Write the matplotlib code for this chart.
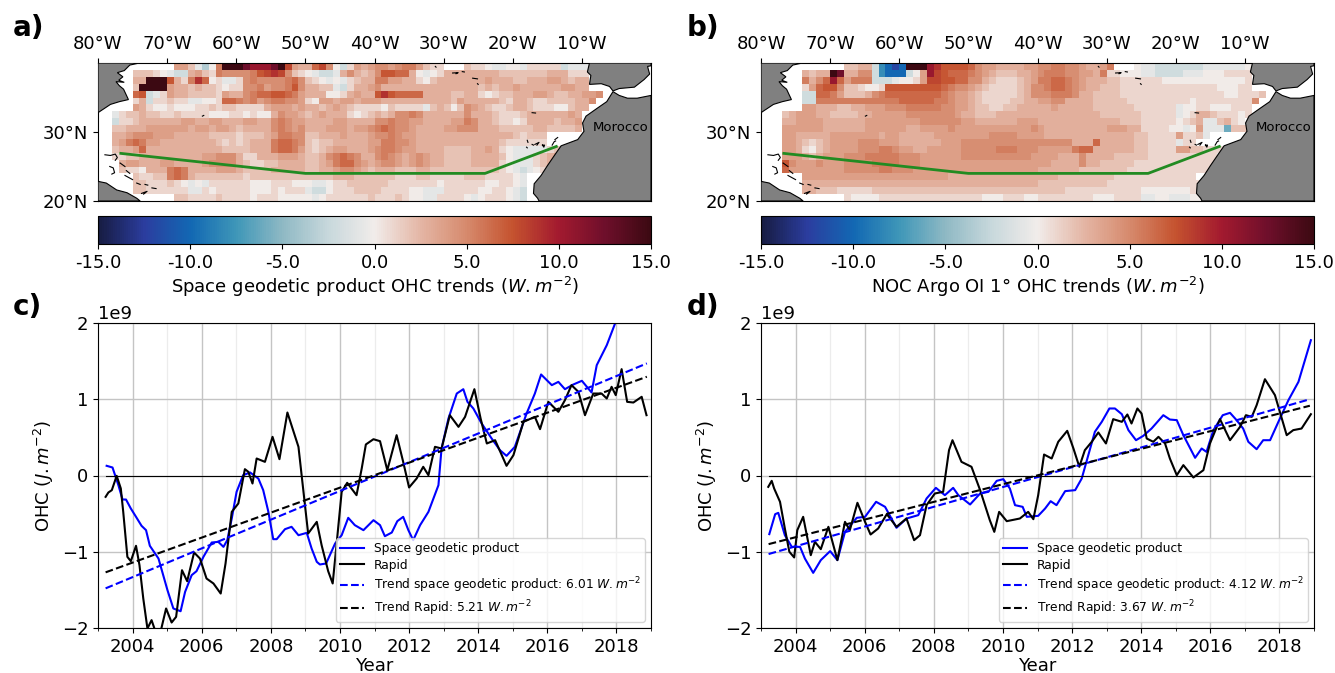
#!/usr/bin/env python3

import numpy
import matplotlib
matplotlib.use('Agg')
import matplotlib.pyplot as plt
from matplotlib.colors import LinearSegmentedColormap

WIDTH = 1335
HEIGHT = 673

# trend maps, one string per latitude row from 40N down, one char per 1 deg of longitude from 80W
# '.' is no data, the other chars are W/m2 levels (see LEVELS)
LEVELS = {'0': 0.0, '1': 0.95, '2': 1.9, '3': 2.85, '4': 3.8, '5': 4.7, '6': 5.6, '7': 6.5, '8': 7.3, '9': 8.0,
          'A': 9.0, 'B': 10.5, 'C': 12.5, 'D': 15.0,
          'p': -0.8, 'q': -2.0, 'r': -3.5, 's': -6.0, 't': -8.0, 'u': -10.0, 'v': -12.0}

trend_altimetry = [
    ".......... .442pr06DD DCBBBCD943 37950q1434 5545664211 ...2110pp0 0p11111qpp p.........",
    ".....22210 pqq3421655 55689A9521 0pqqp35323 5887730p01 3333333322 2222233311 1.........",
    ".....33DDD 8316A701pp 1565555675 210p0p1233 6644331023 3333334333 2233344323 3.........",
    ".....2DDDD 4332322101 1556455685 3322pq1334 5333333333 3333323233 4333333443 3.........",
    ".....78qp1 4332222143 3567788764 3330013433 8A87777333 3223310122 3334432233 445.......",
    ".....13q11 211pp00177 6564566554 1044344344 4333333333 3243333321 3321122223 35........",
    ".....43100 1000112122 1111344434 3323432111 1021111p23 2025432112 3321110023 3.........",
    "..p1223221 1211110001 1010035443 2343331012 3235565333 3335333211 1233333343 ..........",
    "..q1123333 3344334433 3443356544 3333443333 5565544333 3446533211 0133332334 ..........",
    "..22333444 4443443443 2333356545 3334443445 6765543333 4455533322 2223322223 ..........",
    "..33455544 4333332222 1222346655 2233343334 5565443333 3333333333 21222..... ..........",
    "..34676443 3333333212 1233367765 2122333334 4665543333 3333333321 11111..... ..........",
    "..23347333 3333333322 2233367764 2123443334 5665443333 2222334310 ppppp12... ..........",
    "..11223333 3333344555 3113334443 2235676533 5654345433 2222333320 ppp1234... ..........",
    "...3443334 4333345555 3211223333 2234677543 4554345433 2222333310 ppp1235... ..........",
    "...2110333 6763333444 3222233333 2233455432 3332223322 2222222210 pqp0135... ..........",
    ".....21122 6763222222 2122222222 2222333222 2221112211 1112221111 0p........ ..........",
    ".....22111 210p0p1111 1100011100 0pp0112222 2211111110 1111110011 0p........ ..........",
    ".....22111 111pp10111 1100010111 pqq0111222 2111100ppp 1111100110 pq........ ..........",
    ".......... .221111211 1101110000 0p01111112 1112100pp1 1110p01110 pq........ ..........",
]

trend_argo = [
    ".......... ..2233qtuv uDDDBA8888 7544333344 5566554334 6...0ppqqq qqqqpppppp 0.........",
    "......3233 DC3355qtuu uq04B98777 6543222334 5666554436 11000ppqqq qppp000111 1.........",
    "......6357 B74666qqqp 0014998877 5532111234 6677654333 2211111100 0000000000 1.........",
    "......1478 8522100188 8888887655 4321111235 5677654332 2211111111 1111110001 1.........",
    "......qq77 6422235677 7777776544 3211111235 5566653322 2211111111 1111111001 112.......",
    "......qq66 6666666666 7777766544 3211112233 4455333322 2221111111 1101111111 15........",
    "......4433 3223344455 5666665544 3221122333 3343333322 2222111111 p001100011 1.........",
    "...2344433 2222334444 4555555543 3222333333 3333333332 2222211111 p013321110 1.........",
    "...3344443 3333344444 4445555554 4333333444 3333333333 3322211111 0123pp2310 ..........",
    "...4444443 3333344444 4334444544 4444444445 4333333333 4443311110 0p04ppps22 2.........",
    "...4433333 4444444344 3333344444 4445555444 4333333333 3333221111 4112p..... ..........",
    "...4432123 4444555444 3333334445 5555555555 5555533373 3333221111 p11....... ..........",
    "...4431023 4444555665 4433444445 5555666555 4444467733 3333221111 4422111111 ..........",
    "...4443234 4455566666 5554444445 5555555554 4443335333 3222221111 111111p111 ..........",
    "...8544454 4455556666 5554444444 4444444444 4433335332 2222111111 1111111111 ..........",
    "...7444444 4455555665 5544444444 4444444444 3333332222 2221111111 11111..... ..........",
    "......4444 4444444444 4444444333 3333333333 3332222222 2111111111 111....... ..........",
    "......3333 3333333333 3333333333 3333333333 2222222222 1111111111 1111...... ..........",
    "......3322 2111112222 2222222222 2222222222 2222111111 1111100000 0011...... ..........",
    ".......... ..10000111 1111111111 1100011100 1111111100 01111pp00p pp00...... ..........",
]

# coastlines (lon, lat)
north_america = [(-80, 40), (-74, 40), (-75.4, 39.7), (-76.2, 38.9), (-77.2, 38.6), (-76.4, 38.0), (-77.0, 37.5), (-76.2, 37.2),
                 (-77.4, 37.3), (-76.9, 36.7), (-76.3, 36.2), (-75.6, 34.7), (-76.9, 34.4), (-78.2, 34.0), (-80, 32.8)]
cuba = [(-80, 22.85), (-78.8, 22.6), (-77.3, 21.6), (-75.8, 21.2), (-74.4, 20.4), (-73.9, 20), (-80, 20)]
iberia = [(-8.9, 40), (-9.2, 38.7), (-8.7, 38.2), (-8.9, 36.9), (-7.2, 37.0), (-6.0, 36.6), (-5.5, 35.95), (-4.6, 36.3), (-2.4, 36.5),
          (-1.0, 37.6), (-0.2, 38.4), (-0.5, 39.5), (0, 39.6), (0, 40)]
africa = [(-5.5, 35.85), (-6.4, 34.4), (-7.7, 33.5), (-9.4, 32.3), (-9.9, 31.3), (-9.7, 30.1), (-10.6, 28.9), (-13.0, 28.0),
          (-13.7, 27.0), (-15.0, 25.1), (-15.9, 23.7), (-16.9, 22.5), (-17.0, 21.1), (-16.4, 20.4), (-16.2, 20), (0, 20), (0, 35.3),
          (-2.0, 34.9), (-3.4, 34.9), (-4.6, 35.3)]
islands = [
    [(-79, 26.7), (-78.2, 26.6), (-77.5, 26.8), (-77.2, 26.3), (-77.5, 25.9)],
    [(-78.3, 25.0), (-77.8, 24.8), (-77.6, 24.1), (-78.0, 23.9)],
    [(-76.8, 25.5), (-76.1, 25.0)],
    [(-75.9, 24.4), (-75.4, 24.0)],
    [(-76.1, 23.7), (-75.0, 23.1)],
    [(-74.4, 22.6), (-73.9, 22.4)],
    [(-73.2, 22.4), (-72.8, 22.3)],
    [(-72.2, 21.9), (-71.6, 21.8)],
    [(-73.7, 21.1), (-72.9, 21.4), (-73.4, 21.0)],
    [(-64.9, 32.3), (-64.7, 32.4)],
    [(-31.2, 39.5), (-31.1, 39.4)],
    [(-28.7, 38.55), (-27.9, 38.6), (-28.2, 38.45)],
    [(-27.3, 38.75), (-27.0, 38.7)],
    [(-25.8, 37.8), (-25.1, 37.7)],
    [(-25.1, 37.0), (-25.0, 36.9)],
    [(-17.2, 32.8), (-16.7, 32.75)],
    [(-17.9, 28.8), (-17.8, 28.5)],
    [(-18.0, 27.8), (-17.9, 27.7)],
    [(-17.2, 28.2), (-17.0, 28.1)],
    [(-16.8, 28.2), (-16.2, 28.5), (-16.5, 28.1)],
    [(-15.7, 28.1), (-15.4, 28.1), (-15.5, 27.8), (-15.7, 28.1)],
    [(-14.3, 28.1), (-14.0, 28.6), (-13.8, 28.7)],
    [(-13.9, 28.9), (-13.5, 29.2)],
]

section_lon = [-76.7, -50, -24, -13.7]
section_lat = [26.9, 24, 24, 27.9]

map_lon_ticks = [-80, -70, -60, -50, -40, -30, -20, -10]
map_lon_labels = ['80°W', '70°W', '60°W', '50°W', '40°W', '30°W', '20°W', '10°W']
map_lat_ticks = [20, 30]
map_lat_labels = ['20°N', '30°N']
cbar_ticks = [-15, -10, -5, 0, 5, 10, 15]
cbar_labels = ['-15.0', '-10.0', '-5.0', '0.0', '5.0', '10.0', '15.0']

# OHC time series, units of 1e9 J/m2
c_blue_t = [2003.25, 2003.42, 2003.59, 2003.71, 2003.81, 2003.95, 2004.10, 2004.26, 2004.39, 2004.50, 2004.75, 2005.01, 2005.18, 2005.39,
            2005.52, 2005.71, 2005.85, 2006.05, 2006.29, 2006.48, 2006.63, 2006.74, 2006.87, 2007.01, 2007.20, 2007.40, 2007.64, 2007.78,
            2007.93, 2008.07, 2008.17, 2008.41, 2008.60, 2008.80, 2009.04, 2009.18, 2009.33, 2009.42, 2009.60, 2009.86, 2010.05, 2010.24,
            2010.43, 2010.68, 2010.97, 2011.16, 2011.30, 2011.50, 2011.66, 2011.83, 2011.98, 2012.12, 2012.32, 2012.56, 2012.85, 2012.94,
            2013.14, 2013.38, 2013.57, 2013.69, 2013.86, 2014.10, 2014.39, 2014.63, 2014.82, 2015.06, 2015.40, 2015.64, 2015.82, 2016.13,
            2016.32, 2016.51, 2016.75, 2017.00, 2017.28, 2017.43, 2017.72, 2017.96, 2018.20, 2018.87]
c_blue_v = [0.127, 0.105, -0.127, -0.315, -0.315, -0.433, -0.542, -0.66, -0.717, -0.922, -1.089, -1.504, -1.744, -1.78,
            -1.526, -1.307, -1.255, -1.067, -0.879, -0.87, -0.936, -0.848, -0.564, -0.214, 0.004, 0.04, -0.04, -0.192,
            -0.477, -0.835, -0.835, -0.704, -0.673, -0.783, -0.752, -0.957, -1.132, -1.167, -1.154, -0.892, -0.783, -0.555,
            -0.651, -0.717, -0.586, -0.651, -0.796, -0.748, -0.599, -0.542, -0.717, -0.848, -0.651, -0.477, -0.127, 0.354,
            0.748, 1.075, 1.132, 0.966, 0.879, 0.682, 0.485, 0.332, 0.258, 0.376, 0.813, 1.075, 1.325, 1.185,
            1.228, 1.132, 1.193, 1.242, 1.089, 1.447, 1.709, 1.993, 2.3, 3.0]
c_black_t = [2003.22, 2003.30, 2003.40, 2003.54, 2003.66, 2003.73, 2003.85, 2003.95, 2004.10, 2004.20, 2004.31, 2004.43, 2004.55, 2004.65,
             2004.81, 2004.97, 2005.13, 2005.26, 2005.43, 2005.58, 2005.78, 2005.95, 2006.14, 2006.34, 2006.55, 2006.69, 2006.87, 2007.06,
             2007.25, 2007.35, 2007.47, 2007.59, 2007.83, 2008.05, 2008.25, 2008.48, 2008.80, 2009.08, 2009.33, 2009.47, 2009.66, 2009.79,
             2009.90, 2010.05, 2010.21, 2010.48, 2010.63, 2010.75, 2010.97, 2011.16, 2011.37, 2011.64, 2011.83, 2012.00, 2012.22, 2012.41,
             2012.56, 2012.75, 2012.94, 2013.18, 2013.43, 2013.62, 2013.89, 2014.07, 2014.25, 2014.49, 2014.82, 2015.02, 2015.31, 2015.64,
             2015.79, 2016.03, 2016.32, 2016.51, 2016.70, 2016.90, 2017.09, 2017.33, 2017.57, 2017.72, 2017.86, 2017.98, 2018.15, 2018.31,
             2018.49, 2018.73, 2018.87]
c_black_v = [-0.28, -0.223, -0.192, -0.004, -0.17, -0.477, -1.067, -1.124, -0.922, -1.176, -1.613, -2.007, -1.897, -2.03,
             -2.05, -1.744, -1.928, -1.854, -1.242, -1.386, -1.01, -1.089, -1.351, -1.416, -1.548, -1.154, -0.477, -0.367,
             0.083, 0.048, -0.105, 0.223, 0.179, 0.507, 0.214, 0.826, 0.376, -0.761, -0.608, -0.914, -1.255, -1.416,
             -0.914, -0.214, -0.096, -0.258, 0.092, 0.407, 0.476, 0.45, 0.07, 0.529, 0.179, -0.157, -0.039, 0.114,
             0.004, 0.376, 0.354, 0.791, 0.638, 0.769, 1.132, 0.748, 0.42, 0.463, 0.127, 0.267, 0.704, 0.769,
             0.608, 0.966, 0.835, 0.988, 1.185, 1.097, 0.791, 1.075, 1.075, 1.01, 1.163, 1.054, 1.395, 0.966,
             0.957, 1.032, 0.791]
d_blue_t = [2003.24, 2003.41, 2003.50, 2003.69, 2003.89, 2004.13, 2004.27, 2004.51, 2004.73, 2005.00, 2005.21, 2005.43, 2005.77, 2006.01,
            2006.33, 2006.59, 2006.92, 2007.21, 2007.55, 2007.79, 2008.06, 2008.32, 2008.56, 2008.71, 2009.05, 2009.34, 2009.58, 2009.82,
            2010.01, 2010.20, 2010.35, 2010.57, 2010.69, 2011.02, 2011.22, 2011.38, 2011.55, 2011.80, 2012.09, 2012.28, 2012.47, 2012.66,
            2012.86, 2013.08, 2013.24, 2013.44, 2013.63, 2013.85, 2014.06, 2014.30, 2014.64, 2014.83, 2015.03, 2015.22, 2015.56, 2015.75,
            2015.89, 2016.09, 2016.36, 2016.57, 2016.76, 2016.95, 2017.10, 2017.34, 2017.53, 2017.73, 2017.97, 2018.26, 2018.55, 2018.91]
d_blue_v = [-0.769, -0.507, -0.49, -0.783, -0.936, -0.936, -1.089, -1.277, -1.11, -0.992, -1.11, -0.739, -0.555, -0.542,
            -0.345, -0.411, -0.686, -0.564, -0.52, -0.302, -0.162, -0.258, -0.162, -0.258, -0.38, -0.236, -0.214, -0.07,
            -0.048, -0.17, -0.389, -0.411, -0.542, -0.529, -0.433, -0.337, -0.389, -0.205, -0.192, -0.039, 0.267, 0.573,
            0.704, 0.879, 0.879, 0.804, 0.595, 0.463, 0.52, 0.616, 0.791, 0.734, 0.726, 0.529, 0.232, 0.354,
            0.31, 0.595, 0.791, 0.822, 0.726, 0.616, 0.442, 0.345, 0.463, 0.463, 0.704, 0.988, 1.228, 1.775]
d_black_t = [2003.21, 2003.31, 2003.38, 2003.55, 2003.69, 2003.82, 2003.96, 2004.05, 2004.22, 2004.44, 2004.56, 2004.73, 2004.95, 2005.21,
             2005.43, 2005.57, 2005.79, 2006.01, 2006.17, 2006.39, 2006.64, 2006.92, 2007.21, 2007.43, 2007.60, 2007.79, 2008.03, 2008.27,
             2008.44, 2008.54, 2008.80, 2009.09, 2009.34, 2009.62, 2009.75, 2009.89, 2010.11, 2010.49, 2010.73, 2010.88, 2011.02, 2011.19,
             2011.41, 2011.60, 2011.86, 2012.04, 2012.21, 2012.37, 2012.57, 2012.76, 2012.98, 2013.19, 2013.44, 2013.60, 2013.72, 2013.89,
             2014.01, 2014.16, 2014.35, 2014.50, 2014.69, 2014.83, 2015.03, 2015.22, 2015.51, 2015.80, 2015.99, 2016.28, 2016.57, 2016.86,
             2017.03, 2017.20, 2017.34, 2017.58, 2017.87, 2018.21, 2018.40, 2018.64, 2018.91]
d_black_v = [-0.149, -0.07, -0.17, -0.345, -0.695, -1.0, -1.075, -0.717, -0.542, -1.045, -0.87, -0.966, -0.673, -1.11,
             -0.608, -0.717, -0.358, -0.608, -0.774, -0.695, -0.507, -0.673, -0.564, -0.848, -0.783, -0.389, -0.236, -0.214,
             0.332, 0.463, 0.179, 0.114, -0.192, -0.586, -0.739, -0.477, -0.599, -0.564, -0.477, -0.573, -0.258, 0.275,
             0.223, 0.442, 0.586, 0.354, 0.114, 0.332, 0.442, 0.564, 0.42, 0.739, 0.704, 0.8, 0.682, 0.879,
             0.813, 0.485, 0.442, 0.507, 0.42, 0.223, 0.004, 0.136, -0.026, 0.07, 0.42, 0.739, 0.463, 0.638,
             0.791, 0.769, 0.922, 1.263, 1.054, 0.529, 0.595, 0.616, 0.804]

trend_years = [2003.22, 2018.88]
c_trend_blue = [-1.48, 1.47]
c_trend_black = [-1.27, 1.295]
d_trend_blue = [-1.03, 1.0]
d_trend_black = [-0.9, 0.915]
year_ticks = [2004, 2006, 2008, 2010, 2012, 2014, 2016, 2018]
year_minor_ticks = [2003, 2005, 2007, 2009, 2011, 2013, 2015, 2017, 2019]
ohc_ticks = [-2, -1, 0, 1, 2]

balance = LinearSegmentedColormap.from_list('balance', [
    (0.0, '#171c42'), (0.0833, '#2b3d9f'), (0.1667, '#1268b3'), (0.25, '#3f97b8'), (0.3333, '#8fb9c4'), (0.4167, '#c8d8dc'),
    (0.5, '#f1ecea'), (0.5833, '#e4b6a5'), (0.6667, '#d68a6d'), (0.75, '#c5532f'), (0.8333, '#a31a2f'), (0.9167, '#6f0f2b'),
    (1.0, '#3c0912')])


def px_axes(figure, left, top, right, bottom):
    return figure.add_axes([left / WIDTH, 1 - bottom / HEIGHT, (right - left) / WIDTH, (bottom - top) / HEIGHT])


def decode(rows):
    grid = numpy.full((20, 80), numpy.nan)
    for i, row in enumerate(rows):
        for j, char in enumerate(row.replace(' ', '')):
            if char != '.':
                grid[i, j] = LEVELS[char]
    return grid


def draw_map(figure, left, rows, cbar_label):
    ax = px_axes(figure, left, 63, left + 553, 201)
    lon = numpy.arange(-80, 1)
    lat = numpy.arange(40, 19, -1)
    mesh = ax.pcolormesh(lon, lat, decode(rows), cmap=balance, vmin=-15, vmax=15)
    for coast in (north_america, cuba, iberia, africa):
        ax.fill(*zip(*coast), facecolor='#808080', edgecolor='black', lw=0.8, zorder=3)
    for island in islands:
        ax.plot(*zip(*island), color='black', lw=0.8, zorder=3)
    ax.plot(section_lon, section_lat, color='forestgreen', lw=2, zorder=4)
    ax.text(-4.4, 30.7, 'Morocco', fontsize=9.5, ha='center', va='center', zorder=5)
    ax.set_xlim(-80, 0)
    ax.set_ylim(20, 40)
    ax.xaxis.tick_top()
    ax.set_xticks(map_lon_ticks)
    ax.set_xticklabels(map_lon_labels)
    ax.set_yticks(map_lat_ticks)
    ax.set_yticklabels(map_lat_labels)
    ax.tick_params(labelsize=13)

    cax = px_axes(figure, left, 216, left + 553, 244)
    cbar = figure.colorbar(mesh, cax=cax, orientation='horizontal')
    cbar.set_ticks(cbar_ticks)
    cbar.set_ticklabels(cbar_labels)
    cbar.ax.tick_params(labelsize=13)
    cbar.set_label(cbar_label, fontsize=13, labelpad=2)


def draw_series(figure, left, blue_t, blue_v, black_t, black_v, trend_blue, trend_black, slope_blue, slope_black):
    ax = px_axes(figure, left, 323, left + 553, 628)
    ax.plot(blue_t, numpy.array(blue_v) * 1e9, color='blue', lw=1.5, label='Space geodetic product')
    ax.plot(black_t, numpy.array(black_v) * 1e9, color='black', lw=1.5, label='Rapid')
    ax.plot(trend_years, numpy.array(trend_blue) * 1e9, color='blue', lw=1.5, ls='--',
            label='Trend space geodetic product: {} $W.m^{{-2}}$'.format(slope_blue))
    ax.plot(trend_years, numpy.array(trend_black) * 1e9, color='black', lw=1.5, ls='--',
            label='Trend Rapid: {} $W.m^{{-2}}$'.format(slope_black))
    ax.plot(trend_years, [0, 0], color='black', lw=0.8)
    ax.set_xlim(2003, 2019)
    ax.set_ylim(-2e9, 2e9)
    ax.set_xticks(year_ticks)
    ax.set_xticks(year_minor_ticks, minor=True)
    ax.set_yticks(numpy.array(ohc_ticks) * 1e9)
    ax.grid(which='major', color='#c4c4c4', lw=1.0)
    ax.grid(which='minor', axis='x', color='#ececec', lw=0.9)
    ax.set_axisbelow(True)
    ax.tick_params(labelsize=13)
    ax.yaxis.get_offset_text().set_fontsize(13)
    ax.set_xlabel('Year', fontsize=13, labelpad=1)
    ax.set_ylabel('OHC ($J.m^{-2}$)', fontsize=13)
    ax.legend(loc='lower right', fontsize=8.8, labelspacing=0.3, borderpad=0.3)


def main():
    figure = plt.figure(figsize=(WIDTH / 100, HEIGHT / 100), dpi=100)
    draw_map(figure, 98, trend_altimetry, 'Space geodetic product OHC trends ($W.m^{-2}$)')
    draw_map(figure, 761, trend_argo, 'NOC Argo OI 1° OHC trends ($W.m^{-2}$)')
    draw_series(figure, 98, c_blue_t, c_blue_v, c_black_t, c_black_v, c_trend_blue, c_trend_black, '6.01', '5.21')
    draw_series(figure, 761, d_blue_t, d_blue_v, d_black_t, d_black_v, d_trend_blue, d_trend_black, '4.12', '3.67')
    for label, x, y in (('a)', 28, 28), ('b)', 703, 28), ('c)', 27, 307), ('d)', 703, 307)):
        figure.text(x / WIDTH, 1 - y / HEIGHT, label, fontsize=20, fontweight='bold', ha='center', va='center')
    figure.savefig('out.png', dpi=100)


if __name__ == '__main__':
    main()
